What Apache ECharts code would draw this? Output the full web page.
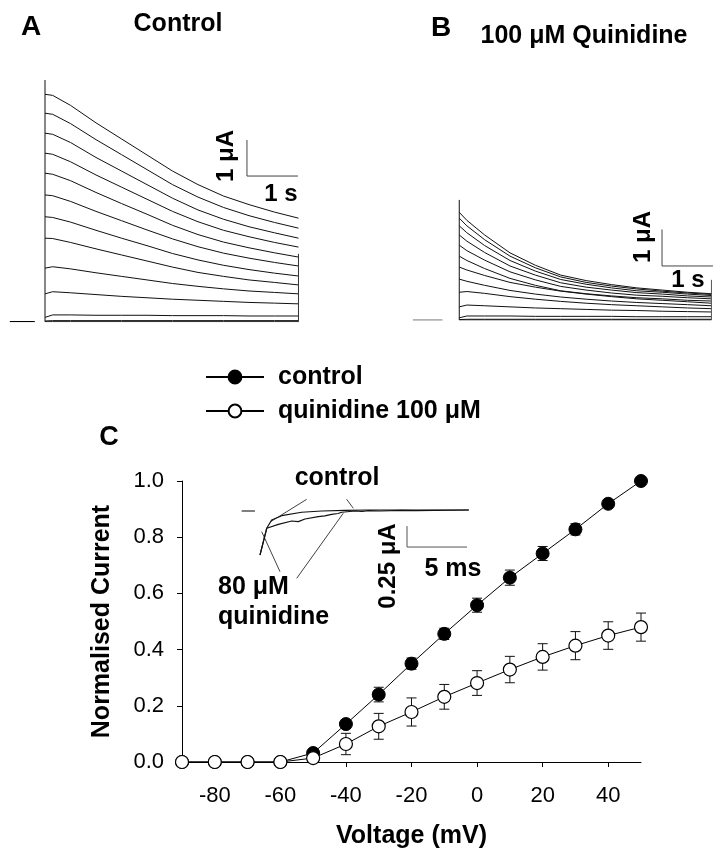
<!DOCTYPE html>
<html><head><meta charset="utf-8">
<script src="https://cdn.jsdelivr.net/npm/echarts@6/dist/echarts.min.js"></script>
<style>html,body{margin:0;padding:0;background:#fff}#c{width:714px;height:851px}</style>
</head><body><div id="c"></div>
<script>
// ---- Panel C: I-V data (normalised) ----
const voltages    = [-90,-80,-70,-60,-50,-40,-30,-20,-10,0,10,20,30,40,50];
const controlMean = [0,0,0,0,0.032,0.135,0.24,0.35,0.456,0.558,0.656,0.742,0.828,0.919,1.0];
const controlSem  = [0,0,0,0,0,0.015,0.026,0.02,0.02,0.025,0.027,0.025,0.02,0,0];
const quinMean    = [0,0,0,0,0.014,0.064,0.127,0.178,0.232,0.281,0.329,0.374,0.414,0.45,0.48];
const quinSem     = [0,0,0,0,0,0.038,0.046,0.05,0.044,0.044,0.047,0.047,0.05,0.049,0.05];
const xTicks = [-80,-60,-40,-20,0,20,40];

// ---- Panels A/B: current traces (uA) sampled at these times (s) ----
const traceTime = [0,0.15,0.5,1,1.5,2,2.5,3,3.5,4,4.5,4.97];
const controlTraces = [
  [6.37,6.34,6.06,5.57,5.12,4.67,4.22,3.84,3.52,3.28,3.07,2.90],
  [5.84,5.81,5.55,5.10,4.68,4.26,3.84,3.49,3.20,2.97,2.78,2.62],
  [5.28,5.25,5.02,4.60,4.22,3.84,3.46,3.13,2.87,2.66,2.49,2.34],
  [4.72,4.69,4.48,4.11,3.77,3.43,3.09,2.80,2.56,2.38,2.22,2.09],
  [4.16,4.13,3.95,3.62,3.31,3.01,2.70,2.44,2.23,2.07,1.93,1.81],
  [3.55,3.53,3.37,3.09,2.83,2.57,2.32,2.10,1.92,1.78,1.66,1.56],
  [2.94,2.92,2.79,2.56,2.34,2.13,1.91,1.73,1.58,1.46,1.36,1.28],
  [2.34,2.33,2.22,2.04,1.87,1.70,1.53,1.38,1.27,1.17,1.10,1.03],
  [1.50,1.54,1.48,1.37,1.27,1.17,1.07,0.99,0.92,0.86,0.82,0.78],
  [0.78,0.84,0.81,0.76,0.71,0.67,0.63,0.60,0.57,0.54,0.52,0.50],
  [0.12,0.19,0.19,0.18,0.18,0.18,0.17,0.17,0.17,0.16,0.16,0.16],
  [0.02,0.03,0.03,0.03,0.03,0.03,0.03,0.03,0.03,0.03,0.03,0.03],
  [0,0,0,0,0,0,0,0,0,0,0,0]
];
const quinTraces = [
  [2.95,2.73,2.33,1.84,1.50,1.23,1.08,0.97,0.88,0.82,0.76,0.72],
  [2.79,2.58,2.20,1.75,1.43,1.18,1.03,0.93,0.85,0.79,0.74,0.70],
  [2.58,2.39,2.04,1.63,1.34,1.11,0.98,0.88,0.80,0.76,0.71,0.67],
  [2.33,2.16,1.85,1.48,1.23,1.02,0.90,0.82,0.75,0.71,0.66,0.63],
  [2.05,1.90,1.64,1.32,1.10,0.92,0.82,0.74,0.68,0.65,0.61,0.58],
  [1.75,1.63,1.41,1.14,0.95,0.80,0.72,0.66,0.61,0.58,0.54,0.52],
  [1.45,1.37,1.22,1.03,0.90,0.79,0.71,0.64,0.58,0.54,0.50,0.46],
  [1.12,1.06,0.95,0.81,0.71,0.63,0.57,0.52,0.48,0.45,0.42,0.39],
  [0.76,0.78,0.73,0.64,0.57,0.51,0.46,0.42,0.39,0.36,0.33,0.31],
  [0.36,0.41,0.39,0.36,0.33,0.31,0.29,0.27,0.26,0.24,0.23,0.22],
  [0.06,0.11,0.11,0.11,0.10,0.10,0.10,0.10,0.09,0.09,0.09,0.09],
  [0.01,0.02,0.02,0.02,0.02,0.02,0.02,0.02,0.02,0.02,0.02,0.02],
  [0,0,0,0,0,0,0,0,0,0,0,0]
];
// capacitive spikes / tails / holding-level markers (s, uA)
const spikeA = [[0,0],[0,6.77]];
const tailA  = [[4.97,0],[4.97,1.9]];
const spikeB = [[0,0],[0,3.29]];
const tailB  = [[4.95,0],[4.95,1.1]];
const holdA  = [[-0.69,0],[-0.2,0]];
const holdB  = [[-0.91,0],[-0.33,0]];

// ---- Inset: tail currents (ms, uA) ----
const insetCtrlTime = [0,0.56,0.97,1.81,3.47,5.14,7.08,9.03,17.4];
const insetCtrlVal  = [-0.524,-0.206,-0.107,-0.056,-0.015,0,0.008,0.012,0.012];
const insetQuinTime = [0,0.56,1.53,2.64,3.19,3.75,4.86,5.4,5.97,6.5,6.81,7.92,8.5,9.03,10,11.8,13,17.4];
const insetQuinVal  = [-0.524,-0.206,-0.159,-0.119,-0.127,-0.095,-0.068,-0.058,-0.04,-0.03,-0.015,0,-0.006,0.004,0,0.008,0.004,0.012];
const insetHold = [[-1.53,0],[-0.42,0]];
const pointerLines = [
  [[3.89,0.139],[0.89,-0.127]],
  [[7.22,0.139],[7.78,0.032]],
  [[1.67,-0.723],[0.14,-0.246]],
  [[3.06,-0.801],[6.94,-0.027]]
];
// scale bars (1 uA / 1 s ; 0.25 uA / 5 ms)
const scaleA = [[3.96,5.09],[3.96,4.08],[4.96,4.08]];
const scaleB = [[3.98,2.48],[3.98,1.48],[4.98,1.48]];
const scaleInset = [[12.25,-0.179],[12.25,-0.429],[17.25,-0.429]];

const FONT = 'Liberation Sans, Arial, sans-serif';
const pairs = (xs, ys) => xs.map((x,i)=>[x, ys[i]]);

function lineSeries(data, gi, opts) {
  return Object.assign({
    type:'line', xAxisIndex:gi, yAxisIndex:gi, data, showSymbol:false, symbol:'none',
    lineStyle:{color:'#111', width:1}, silent:true, animation:false
  }, opts||{});
}

const series = [];
controlTraces.forEach(tr => series.push(lineSeries(pairs(traceTime,tr),0)));
series.push(lineSeries(spikeA,0), lineSeries(tailA,0,{lineStyle:{color:'#333',width:1}}), lineSeries(holdA,0,{lineStyle:{color:'#000',width:1.2}}));
series.push(lineSeries(scaleA,0,{lineStyle:{color:'#444',width:1}}));
quinTraces.forEach(tr => series.push(lineSeries(pairs(traceTime.map(t=>t*4.95/4.97),tr),1)));
series.push(lineSeries(spikeB,1), lineSeries(tailB,1,{lineStyle:{color:'#555',width:1}}), lineSeries(holdB,1,{lineStyle:{color:'#999',width:1.5}}));
series.push(lineSeries(scaleB,1,{lineStyle:{color:'#444',width:1}}));

// inset
series.push(lineSeries(pairs(insetCtrlTime,insetCtrlVal),3,{lineStyle:{color:'#111',width:1.2}}));
series.push(lineSeries(pairs(insetQuinTime,insetQuinVal),3,{lineStyle:{color:'#111',width:1.2}}));
series.push(lineSeries(insetHold,3,{lineStyle:{color:'#000',width:1}}));
pointerLines.forEach(p => series.push(lineSeries(p,3,{lineStyle:{color:'#111',width:0.8}})));
series.push(lineSeries(scaleInset,3,{lineStyle:{color:'#555',width:1}}));

// panel C error bars
function errSeries(mean, sem) {
  return {
    type:'custom', xAxisIndex:2, yAxisIndex:2, z:1, silent:true, animation:false,
    data: voltages.map((v,i)=>[v, mean[i], sem[i]]),
    renderItem: (params, api) => {
      const v = api.value(0), m = api.value(1), s = api.value(2);
      if (!s) return null;
      const top = api.coord([v, m+s]), bot = api.coord([v, m-s]);
      const w = 5;
      const st = {stroke:'#111', lineWidth:1};
      return {type:'group', children:[
        {type:'line', shape:{x1:top[0],y1:top[1],x2:bot[0],y2:bot[1]}, style:st},
        {type:'line', shape:{x1:top[0]-w,y1:top[1],x2:top[0]+w,y2:top[1]}, style:st},
        {type:'line', shape:{x1:bot[0]-w,y1:bot[1],x2:bot[0]+w,y2:bot[1]}, style:st}
      ]};
    }
  };
}
series.push(errSeries(controlMean, controlSem), errSeries(quinMean, quinSem));
series.push({
  name:'control', type:'line', xAxisIndex:2, yAxisIndex:2, z:3, animation:false,
  data: pairs(voltages, controlMean), symbol:'circle', symbolSize:13,
  itemStyle:{color:'#000', borderColor:'#000', borderWidth:1},
  lineStyle:{color:'#000', width:1}
});
series.push({
  name:'quinidine 100 μM', type:'line', xAxisIndex:2, yAxisIndex:2, z:4, animation:false,
  data: pairs(voltages, quinMean), symbol:'circle', symbolSize:13,
  itemStyle:{color:'#fff', borderColor:'#000', borderWidth:1.2},
  lineStyle:{color:'#000', width:1}
});

const hidden = (gi, min, max) => ({gridIndex:gi, type:'value', min, max, show:false});

const texts = [
  {t:'A', x:31, y:27, s:28},
  {t:'Control', x:178, y:24, s:25},
  {t:'B', x:441, y:28, s:28},
  {t:'100 μM Quinidine', x:584, y:36, s:25},
  {t:'1 μA', x:226, y:156, s:24, r:true},
  {t:'1 s', x:281, y:194, s:24},
  {t:'1 μA', x:643, y:237, s:24, r:true},
  {t:'1 s', x:688, y:280, s:24},
  {t:'C', x:109, y:438, s:27},
  {t:'control', x:337, y:478, s:25},
  {t:'80 μM', x:218, y:587, s:25, a:'left'},
  {t:'quinidine', x:218, y:617, s:25, a:'left'},
  {t:'0.25 μA', x:388, y:566, s:24, r:true},
  {t:'5 ms', x:453, y:569, s:25}
];

const option = {
  backgroundColor:'#fff',
  animation:false,
  grid:[
    {left:4.2, top:71.8, width:295.8, height:249.9},
    {left:408.3, top:174, width:306, height:146},
    {left:182, top:481, width:459, height:281},
    {left:200, top:494.2, width:300, height:100.8}
  ],
  xAxis:[
    hidden(0,-0.8,5), hidden(1,-1,5),
    {gridIndex:2, type:'value', min:-90, max:50,
      axisLine:{show:true, onZero:false, lineStyle:{color:'#000', width:1}},
      axisTick:{show:true, length:5, inside:false, customValues:xTicks, lineStyle:{color:'#000'}},
      axisLabel:{customValues:xTicks, margin:23, color:'#000', fontSize:22, fontFamily:FONT},
      splitLine:{show:false},
      name:'Voltage (mV)', nameLocation:'middle', nameGap:62,
      nameTextStyle:{color:'#000', fontSize:25, fontWeight:'bold', fontFamily:FONT}},
    hidden(3,-5,20)
  ],
  yAxis:[
    hidden(0,0,7), hidden(1,0,4),
    {gridIndex:2, type:'value', min:0, max:1, interval:0.2,
      axisLine:{show:true, onZero:false, lineStyle:{color:'#000', width:1}},
      axisTick:{show:true, length:5, lineStyle:{color:'#000'}},
      axisLabel:{margin:18, color:'#000', fontSize:22, fontFamily:FONT, formatter:v=>v.toFixed(1)},
      splitLine:{show:false},
      name:'Normalised Current', nameLocation:'middle', nameGap:67,
      nameTextStyle:{color:'#000', fontSize:25, fontWeight:'bold', fontFamily:FONT}},
    hidden(3,-1.0,0.2)
  ],
  legend:{
    orient:'vertical', left:205, top:364, padding:0, itemWidth:58, itemHeight:16, itemGap:8,
    selectedMode:false, data:['control','quinidine 100 μM'],
    textStyle:{fontFamily:FONT, fontWeight:'bold', fontSize:25, color:'#000', lineHeight:26, padding:[0,0,0,9]}
  },
  series,
  graphic: texts.map(o => ({
    type:'text', x:o.x, y:o.y, rotation:o.r ? Math.PI/2 : 0, silent:true,
    style:{text:o.t, fill:'#000', font:'bold '+o.s+'px '+FONT, align:o.a||'center', verticalAlign:'middle'}
  }))
};

const chart = echarts.init(document.getElementById('c'), null, {renderer:'canvas'});
chart.setOption(option);
</script></body></html>
